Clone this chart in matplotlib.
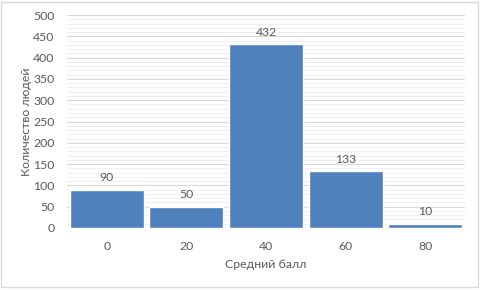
import matplotlib
matplotlib.use("Agg")
import matplotlib.pyplot as plt
from matplotlib.patches import Rectangle
import numpy as np

categories = ["0", "20", "40", "60", "80"]
values = [90, 50, 432, 133, 10]
yticks = [0, 50, 100, 150, 200, 250, 300, 350, 400, 450, 500]

W, H = 481, 290
fig = plt.figure(figsize=(W / 100, H / 100), dpi=100)
plt.rcParams['font.family'] = ['Lato', 'DejaVu Sans']
tc = '#595959'
fs = 8.8

# plot area: x 67..465, y 15..228 (pixels from top)
l, r, t, b = 67, 465, 15, 228
ax = fig.add_axes([l / W, 1 - b / H, (r - l) / W, (b - t) / H])
x = np.arange(len(categories))
ax.bar(x, values, width=0.93, color='#4F81BD', edgecolor='white', linewidth=1.0, zorder=3)
ax.set_xlim(-0.5, len(categories) - 0.5)
ax.set_ylim(0, 500)
ax.set_yticks(yticks)
ax.set_yticks(np.arange(0, 501, 10), minor=True)
ax.grid(axis='y', which='major', color='#D9D9D9', linewidth=0.8, zorder=1)
ax.grid(axis='y', which='minor', color='#F0F0F0', linewidth=0.8, zorder=0)
ax.set_xticks(x)
ax.set_xticklabels(categories)
for s in ax.spines.values():
    s.set_visible(False)
ax.tick_params(axis='both', which='both', length=0, colors=tc, labelsize=fs)
ax.tick_params(axis='x', pad=9)
ax.tick_params(axis='y', pad=9)
for xi, v in zip(x, values):
    ax.annotate(str(v), (xi, v), xytext=(0, 4.5), textcoords='offset points',
                ha='center', va='bottom', color=tc, fontsize=fs)
ax.set_xlabel('Средний балл', color=tc, fontsize=fs, labelpad=5.5)
ax.set_ylabel('Количество людей', color=tc, fontsize=fs, labelpad=0.5)

fig.patches.append(Rectangle((1 / W, 3 / H), (W - 4) / W, (H - 5) / H, transform=fig.transFigure,
                             fill=False, edgecolor='#D9D9D9', linewidth=1.0))
fig.savefig('out.png', dpi=100)
